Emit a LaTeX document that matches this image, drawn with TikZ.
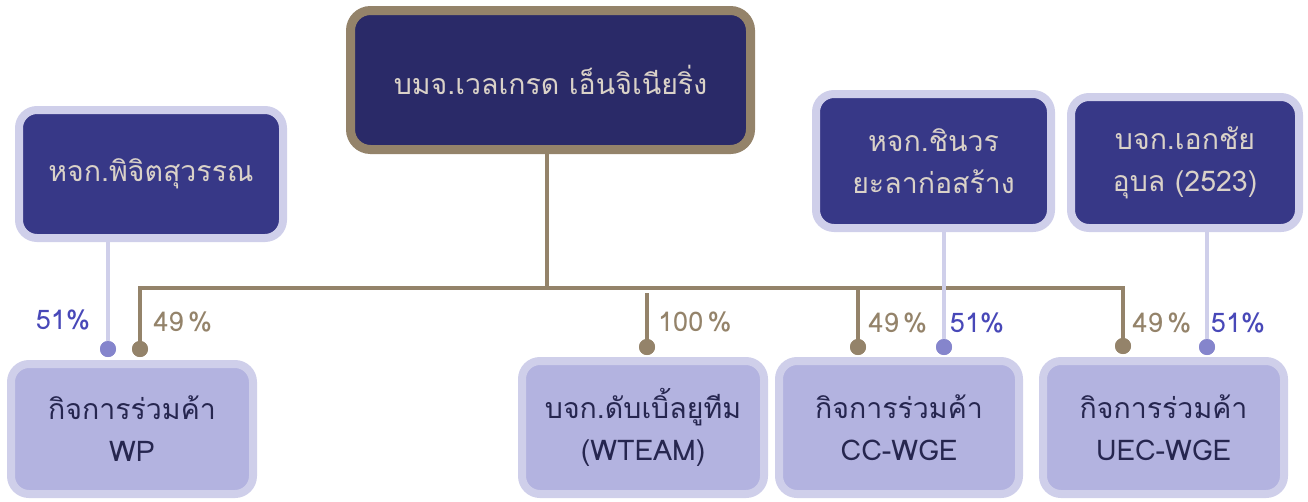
\documentclass[tikz,border=0pt]{standalone}
\usepackage{fontspec}
\setmainfont[Script=Thai]{Loma}
\definecolor{tan}{HTML}{94836A}
\definecolor{navy}{HTML}{2A2A68}
\definecolor{indigo}{HTML}{373887}
\definecolor{lav}{HTML}{CFCFEA}
\definecolor{lavfill}{HTML}{B3B3E0}
\definecolor{dotblue}{HTML}{8585CC}
\definecolor{pctblue}{HTML}{4848B8}
\definecolor{lighttext}{HTML}{DAD2C8}
\definecolor{darktext}{HTML}{26264F}
\tikzset{
  topbox/.style={draw=tan, line width=9pt, fill=navy, rounded corners=20pt, text=lighttext, align=center, inner sep=0pt},
  ownerbox/.style={draw=lav, line width=8pt, fill=indigo, rounded corners=18pt, text=lighttext, align=center, inner sep=0pt},
  subbox/.style={draw=lav, line width=8pt, fill=lavfill, rounded corners=18pt, text=darktext, align=center, inner sep=0pt},
  tanline/.style={draw=tan, line width=4pt},
  blueline/.style={draw=lav, line width=4pt},
  tandot/.style={circle, fill=tan, minimum size=16pt, inner sep=0pt},
  bluedot/.style={circle, fill=dotblue, minimum size=16pt, inner sep=0pt},
  tanpct/.style={text=tan, anchor=center, font=\fontsize{27}{30}\selectfont},
  bluepct/.style={text=pctblue, anchor=center, font=\fontsize{27}{30}\selectfont},
  txt/.style={font=\fontsize{28.5}{42}\selectfont}
}
\begin{document}
\begin{tikzpicture}[x=1pt, y=-1pt, every node/.style={txt}]
\useasboundingbox (0,0) rectangle (1308,501);
% boxes
\node[topbox, minimum width=400pt, minimum height=139pt] (top) at (550.5,80) {บมจ.เวลเกรด เอ็นจิเนียริ่ง};
\node[ownerbox, minimum width=264pt, minimum height=128pt] (pichit) at (151,174) {หจก.พิจิตสุวรรณ};
\node[ownerbox, minimum width=235pt, minimum height=134pt] (chin) at (933.5,161) {หจก.ชินวร\\ยะลาก่อสร้าง};
\node[ownerbox, minimum width=228pt, minimum height=131pt] (ekk) at (1185,162.5) {บจก.เอกชัย\\อุบล (2523)};
\node[subbox, minimum width=242pt, minimum height=130pt] (wp) at (132,429) {กิจการร่วมค้า\\WP};
\node[subbox, minimum width=242pt, minimum height=133pt] (wt) at (643,427.5) {บจก.ดับเบิ้ลยูทีม\\(WTEAM)};
\node[subbox, minimum width=240pt, minimum height=133pt] (cc) at (899,427.5) {กิจการร่วมค้า\\CC-WGE};
\node[subbox, minimum width=241pt, minimum height=133pt] (uec) at (1163.5,427.5) {กิจการร่วมค้า\\UEC-WGE};
% bar coordinates
\coordinate (hL) at (140,288);
\coordinate (hR) at (1123,288);
\coordinate (hM) at (547,288);
\coordinate (wtTop) at (647,293);
\coordinate (ccTop) at (858,290);
% dots
\node[tandot] (dwp) at (140,349) {};
\node[bluedot] (bwp) at (108,349) {};
\node[tandot] (dwt) at (647,347) {};
\node[tandot] (dcc) at (858,347) {};
\node[bluedot] (bcc) at (944,347) {};
\node[tandot] (duec) at (1123,346) {};
\node[bluedot] (buec) at (1207,347) {};
% tan connectors
\draw[tanline] (top.south -| hM) -- (hM);
\draw[tanline] (dwp.center) -- (hL) -- (hR) -- (duec.center);
\draw[tanline] (wtTop) -- (dwt.center);
\draw[tanline] (ccTop) -- (dcc.center);
% blue connectors
\draw[blueline] (pichit.south -| bwp) -- (bwp.center);
\draw[blueline] (chin.south -| bcc) -- (bcc.center);
\draw[blueline] (ekk.south -| buec) -- (buec.center);
% redraw dots on top
\node[tandot] at (dwp) {};
\node[bluedot] at (bwp) {};
\node[tandot] at (dwt) {};
\node[tandot] at (dcc) {};
\node[bluedot] at (bcc) {};
\node[tandot] at (duec) {};
\node[bluedot] at (buec) {};
% percentages
\node[bluepct] (p1) at (63,320) {51\%};
\node[tanpct] (p2) at (183,322) {49\,\%};
\node[tanpct] (p3) at (695,322) {100\,\%};
\node[tanpct] (p4) at (898,323) {49\,\%};
\node[bluepct] (p5) at (977,323) {51\%};
\node[tanpct] (p6) at (1162,323) {49\,\%};
\node[bluepct] (p7) at (1238,323) {51\%};
\end{tikzpicture}
\end{document}
